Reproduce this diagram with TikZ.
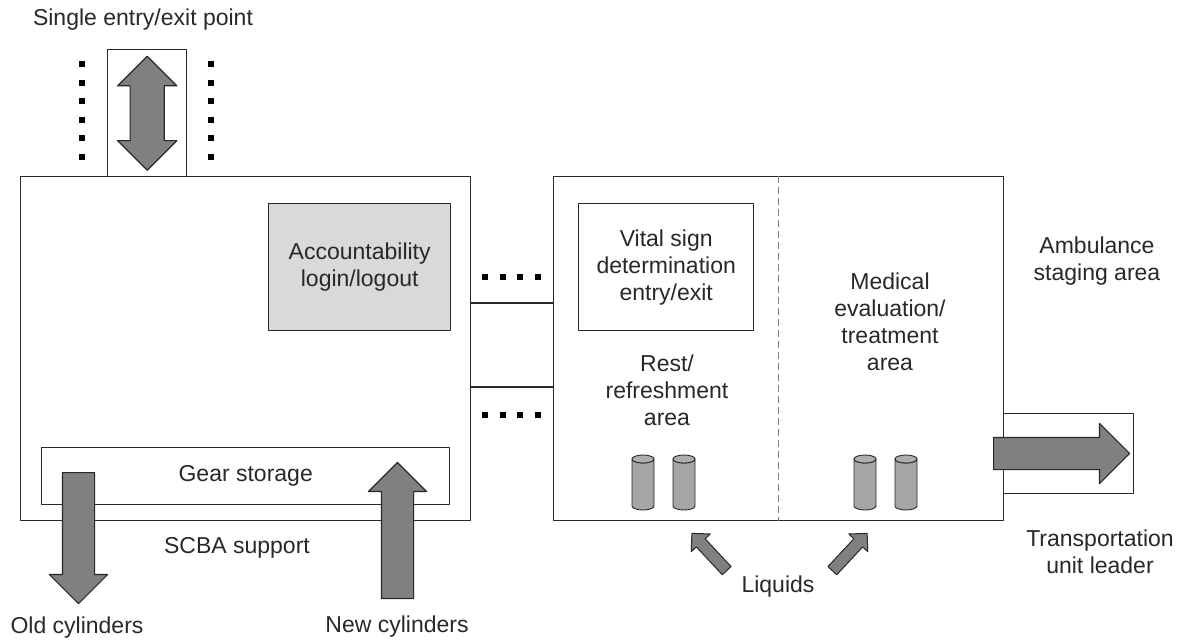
\documentclass[tikz,border=0pt]{standalone}
\usepackage{fontspec}
\setmainfont{Liberation Sans}
\usepackage{tikz}
\usetikzlibrary{shapes.arrows}

\definecolor{arrowgray}{RGB}{128,128,128}
\definecolor{boxgray}{RGB}{217,217,217}
\definecolor{cylgray}{RGB}{165,165,165}
\definecolor{inkgray}{RGB}{40,40,40}

\tikzset{
  area/.style={draw=inkgray,line width=1.4pt,inner sep=0pt,anchor=north west},
  lbl/.style={align=center,font=\fontsize{23}{27}\selectfont,text=inkgray,inner sep=0pt},
  fatarrow/.style={single arrow,draw=inkgray,fill=arrowgray,line width=1.2pt,
    inner xsep=0pt,inner ysep=#1,single arrow head extend=13pt,anchor=tail},
  thinarrow/.style={single arrow,draw=inkgray,fill=arrowgray,line width=1pt,
    inner xsep=0pt,inner ysep=5.5pt,single arrow head extend=7pt,anchor=tail,minimum height=51pt},
  dotrow/.style={line width=6pt,line cap=butt,dash pattern=on 6pt off #1},
  divider/.style={draw=gray,line width=1.2pt,dash pattern=on 7pt off 4pt,line cap=butt},
  cup/.pic={
    \filldraw[draw=inkgray,fill=cylgray,line width=0.9pt]
      (-11,-23.5) -- (-11,23.5) arc (180:360:11pt and 4pt) -- (11,-23.5)
      arc (0:-180:11pt and 4pt) -- cycle;
    \filldraw[draw=inkgray,fill=cylgray!90,line width=0.9pt] (0,-23.5) ellipse (11pt and 4pt);
  }
}

\begin{document}
\begin{tikzpicture}[line cap=round,line join=round,x=1pt,y=-1pt]
\useasboundingbox (0,0) rectangle (1186,641);
% areas
\node[area,minimum width=450pt,minimum height=344pt] (scba) at (20,176) {};
\node[area,minimum width=450pt,minimum height=344pt] (rehab) at (553,176) {};
\node[area,minimum width=79pt,minimum height=127pt] (entry) at (107,49) {};
\node[area,fill=boxgray,minimum width=182pt,minimum height=127pt,lbl] (login) at (268,203) {Accountability\\login/logout};
\node[area,minimum width=175pt,minimum height=127pt,lbl] (vital) at (578,203) {Vital sign\\determination\\entry/exit};
\node[area,minimum width=408pt,minimum height=57pt,lbl] (gear) at (41,447) {Gear storage};
\node[area,minimum width=130pt,minimum height=80pt] (amb) at (1003,413) {};
\draw[divider] (rehab.north) -- (rehab.south);
% links between the two areas
\coordinate (linkA) at (0,303);
\coordinate (linkB) at (0,387);
\draw[inkgray,line width=1.4pt] (scba.east |- linkA) -- (rehab.west |- linkA);
\draw[inkgray,line width=1.4pt] (scba.east |- linkB) -- (rehab.west |- linkB);
\draw[dotrow=11.7pt] (482,277) -- (541,277);
\draw[dotrow=11.7pt] (482,415) -- (541,415);
\draw[dotrow=12.5pt] (82,61) -- (82,160);
\draw[dotrow=12.5pt] (211,61) -- (211,160);
% arrows
\node[fatarrow=16.5pt,double arrow,double arrow head extend=12.5pt,anchor=center,
  minimum height=114pt,rotate=90] (door) at (entry.center) {};
\node[fatarrow=15.5pt,minimum height=131pt,rotate=-90] (oldarr) at (78.5,472) {};
\node[fatarrow=15.5pt,minimum height=136pt,rotate=90] (newarr) at (397.5,599) {};
\node[fatarrow=15.5pt,single arrow head extend=14pt,minimum height=136pt] (transport) at (993,453.5) {};
\node[thinarrow,rotate=133] (liqA) at (727,571) {};
\node[thinarrow,rotate=47] (liqB) at (832,571) {};
% cups
\pic (cupA) at (643,482.5) {cup};
\pic (cupB) at (684,482.5) {cup};
\pic (cupC) at (865,482.5) {cup};
\pic (cupD) at (906,482.5) {cup};
% labels
\node[lbl] (entrylbl) at (143,20) {Single entry/exit point};
\node[lbl] (scbalbl) at (237,548) {SCBA support};
\node[lbl] (oldlbl) at (77,628) {Old cylinders};
\node[lbl] (newlbl) at (397,627) {New cylinders};
\node[lbl] (restlbl) at (667,390) {Rest/\\refreshment\\area};
\node[lbl] (medlbl) at (890,322) {Medical\\evaluation/\\treatment\\area};
\node[lbl] (amblbl) at (1097,261) {Ambulance\\staging area};
\node[lbl] (tranlbl) at (1100,552) {Transportation\\unit leader};
\node[lbl] (liqlbl) at (778,587) {Liquids};
\end{tikzpicture}
\end{document}
